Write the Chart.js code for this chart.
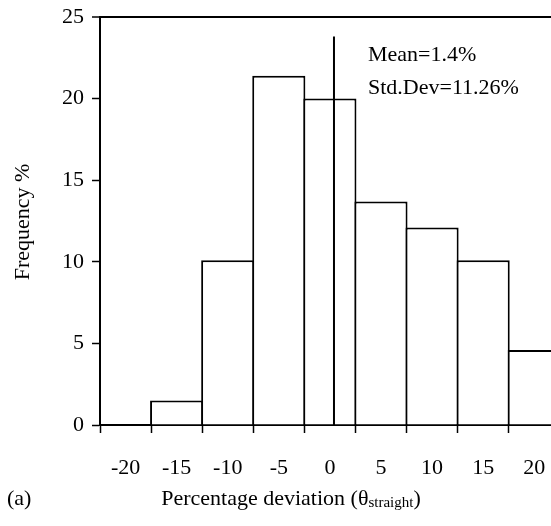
<!DOCTYPE html>
<html><head><meta charset="utf-8">
<script src="https://cdn.jsdelivr.net/npm/chart.js@4/dist/chart.umd.min.js"></script>
<style>html,body{margin:0;padding:0;background:#fff;overflow:hidden}#wrap{width:551px;height:526px;position:relative}</style>
</head><body><div id="wrap"><canvas id="c" width="551" height="526"></canvas></div>
<script>
// ---- data ----
const binCenters = [-20, -15, -10, -5, 0, 5, 10, 15, 20];
const frequency = [null, 1.5, 10.1, 21.4, 20.0, 13.7, 12.1, 10.1, 4.6];
const yTickValues = [0, 5, 10, 15, 20, 25];
const meanMarkerX = 0.4;      // where the mean marker sits on the axis
const meanMarkerTop = 23.8;
const statLines = ['Mean=1.4%', 'Std.Dev=11.26%'];
const yTitle = 'Frequency %';
const xTitleMain = 'Percentage deviation (\u03B8';
const xTitleSub = 'straight';
const xTitleEnd = ')';
const panelLabel = '(a)';

const FONT = '"Liberation Serif", "Times New Roman", serif';

const textPlugin = {
  id: 'texts',
  afterDraw(chart) {
    const ctx = chart.ctx;
    ctx.save();
    ctx.fillStyle = '#000';
    ctx.textBaseline = 'alphabetic';
    ctx.textAlign = 'left';
    ctx.font = '22px ' + FONT;
    ctx.fillText(statLines[0], 368, 61);
    ctx.fillText(statLines[1], 368, 94);
    // panel label
    ctx.fillText(panelLabel, 7, 505);
    // x title with subscript
    const wMain = ctx.measureText(xTitleMain).width;
    ctx.font = '15px ' + FONT;
    const wSub = ctx.measureText(xTitleSub).width;
    ctx.font = '22px ' + FONT;
    const wEnd = ctx.measureText(xTitleEnd).width;
    let x = 291 - (wMain + wSub + wEnd) / 2;
    ctx.fillText(xTitleMain, x, 505);
    x += wMain;
    ctx.font = '15px ' + FONT;
    ctx.fillText(xTitleSub, x, 507);
    x += wSub;
    ctx.font = '22px ' + FONT;
    ctx.fillText(xTitleEnd, x, 505);
    // y title
    ctx.translate(29, 222);
    ctx.rotate(-Math.PI / 2);
    ctx.textAlign = 'center';
    ctx.fillText(yTitle, 0, 0);
    ctx.restore();
  }
};

new Chart(document.getElementById('c'), {
  type: 'bar',
  data: {
    datasets: [
      {
        type: 'line',
        data: [{x: meanMarkerX, y: 0}, {x: meanMarkerX, y: meanMarkerTop}],
        borderColor: '#000', borderWidth: 2, pointRadius: 0, order: 0
      },
      {
        type: 'bar',
        data: binCenters.map((x, i) => ({x: x, y: frequency[i]})),
        backgroundColor: '#fff', borderColor: '#000', borderWidth: 2,
        barPercentage: 1.04, categoryPercentage: 1, order: 1
      }
    ]
  },
  options: {
    responsive: false, animation: false, devicePixelRatio: 1,
    layout: {padding: {top: 17, left: 0, right: 0, bottom: 0}},
    plugins: {legend: {display: false}, tooltip: {enabled: false}},
    scales: {
      x: {
        type: 'linear', min: -22.5, max: 21.64, offset: false,
        afterBuildTicks: s => { s.ticks = binCenters.map(v => ({value: v})); },
        afterFit: s => { s.height = 101; s.paddingRight = 0; s.paddingLeft = 0; },
        border: {display: true, color: '#000', width: 2},
        grid: {offset: true, drawOnChartArea: false, drawTicks: true, tickLength: 8, tickColor: '#000', tickWidth: 1.5, color: '#000'},
        ticks: {color: '#000', font: {family: FONT, size: 22}, padding: 22, maxRotation: 0, autoSkip: false,
          callback: v => String(v)}
      },
      y: {
        min: 0, max: 25,
        afterBuildTicks: s => { s.ticks = yTickValues.map(v => ({value: v})); },
        afterFit: s => { s.width = 100; s.paddingTop = 0; s.paddingBottom = 0; },
        border: {display: true, color: '#000', width: 2},
        grid: {
          drawOnChartArea: true, drawTicks: true, tickLength: 8, tickColor: '#000', tickWidth: 1.5,
          color: c => (c.tick && c.tick.value === 25) ? '#000' : 'rgba(0,0,0,0)',
          lineWidth: c => (c.tick && c.tick.value === 25) ? 2 : 1
        },
        ticks: {color: '#000', font: {family: FONT, size: 22}, padding: 8}
      }
    }
  },
  plugins: [textPlugin]
});
</script>
</body></html>
